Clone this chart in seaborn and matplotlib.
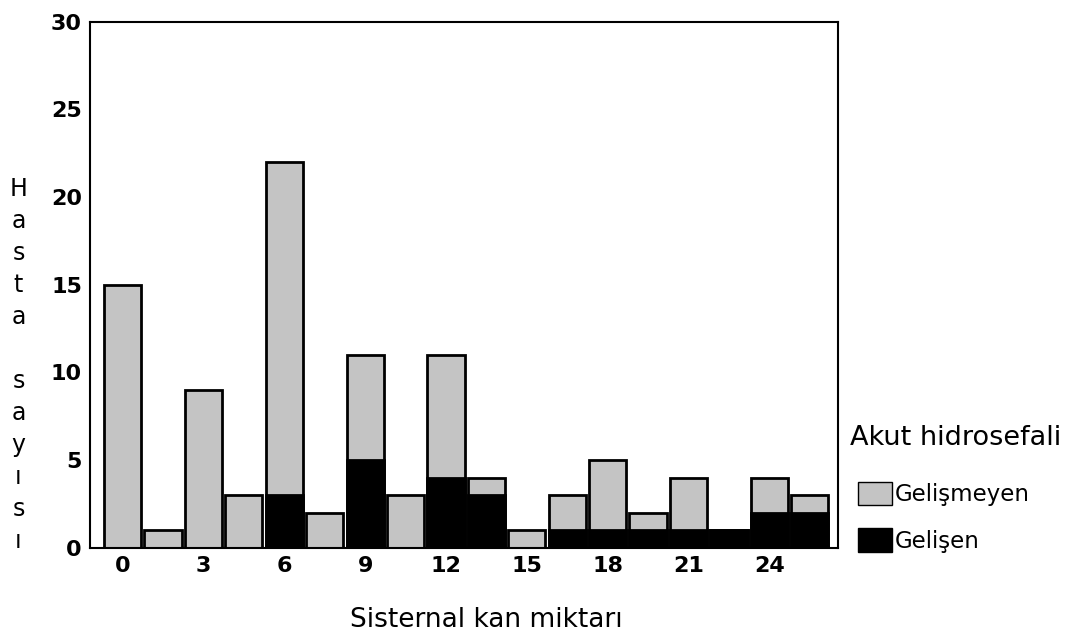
import pandas as pd
import seaborn as sns
import matplotlib.pyplot as plt
from matplotlib.patches import Patch

# bars in order along the x axis, labelled on every other bar
categories = ['0', '1.5', '3', '4.5', '6', '7.5', '9', '10.5', '12', '13.5',
              '15', '16.5', '18', '19.5', '21', '22.5', '24', '25.5']
tick_labels = ['0', '', '3', '', '6', '', '9', '', '12', '',
               '15', '', '18', '', '21', '', '24', '']
gelismeyen = [15, 1, 9, 3, 19, 2, 6, 3, 7, 1, 1, 2, 4, 1, 3, 0, 2, 1]
gelisen = [0, 0, 0, 0, 3, 0, 5, 0, 4, 3, 0, 1, 1, 1, 1, 1, 2, 2]

df = pd.DataFrame({'kategori': categories, 'Gelişmeyen': gelismeyen, 'Gelişen': gelisen})
df['toplam'] = df['Gelişmeyen'] + df['Gelişen']

sns.set_theme(style='white')
plt.rcParams['font.family'] = ['DejaVu Sans']
plt.rcParams['text.color'] = 'black'
plt.rcParams['axes.labelcolor'] = 'black'
plt.rcParams['xtick.color'] = 'black'
plt.rcParams['ytick.color'] = 'black'

fig = plt.figure(figsize=(10.87, 6.4), dpi=100)
ax = fig.add_axes([0.083, 0.144, 0.688, 0.822])

gray = '#c4c4c4'
sns.barplot(data=df, x='kategori', y='toplam', order=categories, color=gray,
            width=0.92, edgecolor='black', linewidth=2, saturation=1, ax=ax)
sns.barplot(data=df, x='kategori', y='Gelişen', order=categories, color='black',
            width=0.92, edgecolor='black', linewidth=2, saturation=1, ax=ax)

ax.set_xlim(-0.8, 17.7)
ax.set_ylim(0, 30)
ax.set_yticks([0, 5, 10, 15, 20, 25, 30])
ax.set_xticks(range(len(categories)))
ax.set_xticklabels(tick_labels)
ax.tick_params(axis='both', which='major', direction='out', length=4, width=3,
               labelsize=16, pad=2)
for lbl in ax.get_xticklabels() + ax.get_yticklabels():
    lbl.set_fontweight('bold')

for side in ['left', 'bottom', 'top', 'right']:
    ax.spines[side].set_visible(True)
    ax.spines[side].set_color('black')
    ax.spines[side].set_linewidth(1.5)

ax.set_xlabel('')
ax.set_ylabel('')
fig.text(0.447, 1 - 620 / 640, 'Sisternal kan miktarı', fontsize=19,
         ha='center', va='center')
fig.text(0.017, 1 - 365 / 640, 'H\na\ns\nt\na\n\ns\na\ny\nı\ns\nı', fontsize=17,
         ha='center', va='center', linespacing=1.42)

fig.text(850 / 1087, 1 - 438 / 640, 'Akut hidrosefali', fontsize=19.5,
         ha='left', va='center')
handles = [Patch(facecolor=gray, edgecolor='black', label='Gelişmeyen'),
           Patch(facecolor='black', edgecolor='black', label='Gelişen')]
ax.legend(handles=handles, loc='upper left', bbox_to_anchor=(858 / 1087, 1 - 482 / 640),
          bbox_transform=fig.transFigure, frameon=False, fontsize=16.5,
          handlelength=1.5, handleheight=1.2, handletextpad=0.1,
          labelspacing=0.95, borderaxespad=0, borderpad=0)

fig.savefig('out.png', dpi=100)
